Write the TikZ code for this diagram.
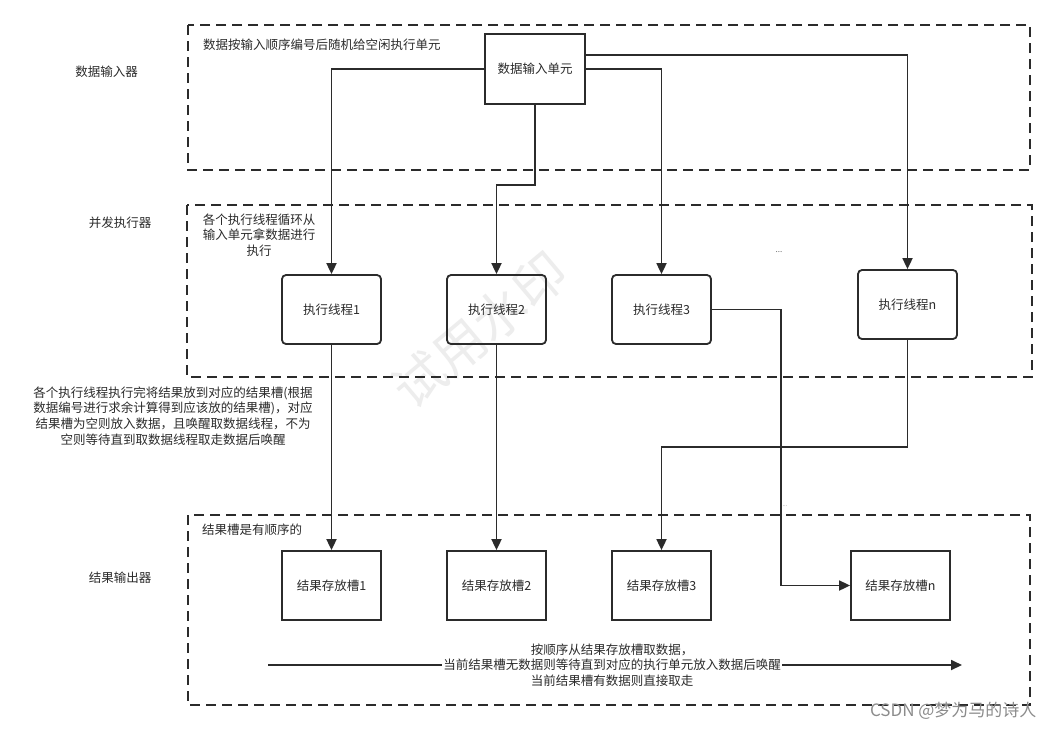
\documentclass[tikz,border=0pt]{standalone}
\usepackage{fontspec}
\setmainfont{Noto Sans CJK SC}
\usetikzlibrary{arrows.meta}
\definecolor{ink}{HTML}{2B2B2B}
\tikzset{
  region/.style={draw=ink, line width=1.8pt, dash pattern=on 10pt off 6pt},
  box/.style={draw=ink, line width=1.8pt, minimum width=99pt, minimum height=69pt, inner sep=0pt, font=\fontsize{12.5}{15}\selectfont, text=ink},
  rbox/.style={box, rounded corners=4pt},
  lbl/.style={font=\fontsize{12.5}{15.6}\selectfont, text=ink, inner sep=0pt},
  arr/.style={draw=ink, line width=1.8pt, -{Triangle[length=11pt,width=10pt]}},
}
\begin{document}
\begin{tikzpicture}[x=1pt,y=-1pt]
\useasboundingbox[fill=white] (0,0) rectangle (1057,729);
% watermark
\node[font=\fontsize{52}{52}\selectfont, text=black!7, rotate=40] (wm) at (480,330) {试用水印};
% regions
\draw[region] (188,25) rectangle (1030,170);
\draw[region] (187,205) rectangle (1032,377);
\draw[region] (188,515) rectangle (1030,705);
% side labels
\node[lbl] (L1) at (106.5,72) {数据输入器};
\node[lbl] (L2) at (120,223) {并发执行器};
\node[lbl] (L3) at (120,578) {结果输出器};
% notes
\node[lbl, anchor=west] (n1) at (203,45) {数据按输入顺序编号后随机给空闲执行单元};
\node[lbl, align=center] (n2) at (259,235) {各个执行线程循环从\\输入单元拿数据进行\\执行};
\node[lbl, align=center] (n3) at (173,416) {各个执行线程执行完将结果放到对应的结果槽(根据\\数据编号进行求余计算得到应该放的结果槽)，对应\\结果槽为空则放入数据，且唤醒取数据线程，不为\\空则等待直到取数据线程取走数据后唤醒};
\node[lbl, anchor=west] (n4) at (202,530) {结果槽是有顺序的};
\node[font=\fontsize{8}{8}\selectfont, text=black!60] (d1) at (779,252) {...};
\node[font=\fontsize{6}{6}\selectfont, text=black!45] (d2) at (785,506) {...};
% boxes
\node[box, minimum width=100pt, minimum height=70pt] (in) at (535,69) {数据输入单元};
\node[rbox] (t1) at (331.5,309.5) {执行线程1};
\node[rbox] (t2) at (496.5,309.5) {执行线程2};
\node[rbox] (t3) at (661.5,309.5) {执行线程3};
\node[rbox] (tn) at (907.5,304.5) {执行线程n};
\node[box] (s1) at (331.5,585.5) {结果存放槽1};
\node[box] (s2) at (496.5,585.5) {结果存放槽2};
\node[box] (s3) at (661.5,585.5) {结果存放槽3};
\node[box] (sn) at (900.5,585.5) {结果存放槽n};
% connectors
\draw[arr] (in.west) -| (t1.north);
\draw[arr] (in.south) -- (535,185) -| (t2.north);
\draw[arr] (in.east) -| (t3.north);
\draw[arr] ([yshift=14pt]in.east) -| (tn.north);
\draw[arr] (t1.south) -- (s1.north);
\draw[arr] (t2.south) -- (s2.north);
\draw[arr] (t3.east) -- (781,309.5) |- (sn.west);
\draw[arr] (tn.south) -- (907.5,447) -| (s3.north);
% bottom arrow
\coordinate (a0) at (268,665);
\coordinate (a1) at (962,665);
\draw[arr] (a0) -- (a1);
\node[lbl, align=center, fill=white, inner sep=1pt] (n5) at (612,665) {按顺序从结果存放槽取数据，\\当前结果槽无数据则等待直到对应的执行单元放入数据后唤醒\\当前结果槽有数据则直接取走};
% csdn watermark
\node[font=\fontsize{17}{17}\selectfont, text=black!45, anchor=east] (csdn) at (1040,711) {CSDN @梦为马的诗人};
\end{tikzpicture}
\end{document}
